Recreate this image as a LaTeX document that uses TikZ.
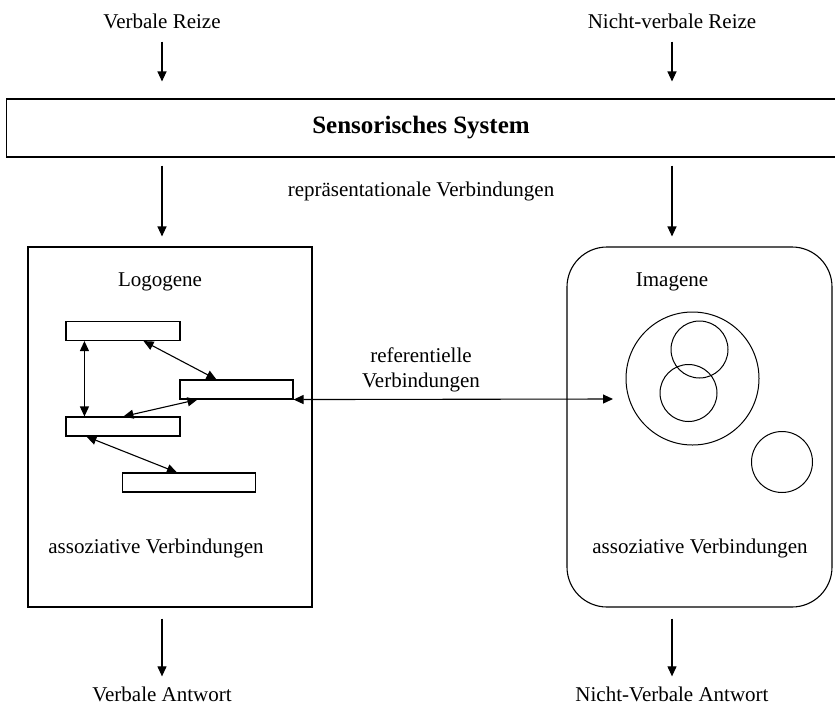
\documentclass[tikz,border=0pt]{standalone}
\usepackage{fontspec}
\setmainfont{Liberation Serif}
\usetikzlibrary{arrows.meta,positioning,calc}

\begin{document}
\begin{tikzpicture}[x=1pt, y=-1pt,
  txt/.style={font=\fontsize{21}{25}\selectfont, inner sep=2pt},
  box/.style={draw, line width=1.1pt, inner sep=0pt},
  bar/.style={draw, line width=1.1pt, minimum height=19pt, inner sep=0pt},
  ring/.style={draw, circle, line width=1pt, inner sep=0pt},
  arr/.style={-{Triangle[length=10pt,width=9pt]}, line width=1.1pt},
  darr/.style={{Triangle[length=10pt,width=9pt]}-{Triangle[length=10pt,width=9pt]}, line width=1.1pt},
]
\useasboundingbox (0,0) rectangle (835,707);

% --- Eingaben ---
\node[txt] (vreiz) at (162,21) {Verbale Reize};
\node[txt] (nvreiz) at (672,21) {Nicht-verbale Reize};

\node[box, minimum width=829pt, minimum height=58pt, font=\fontsize{25}{29}\selectfont\bfseries]
  (sens) at (421,128) {Sensorisches System};

\draw[arr, shorten <=11pt, shorten >=17pt] (vreiz.south) -- (vreiz |- sens.north);
\draw[arr, shorten <=11pt, shorten >=17pt] (nvreiz.south) -- (nvreiz |- sens.north);

\node[txt] (repr) at (421,191) {repräsentationale Verbindungen};

% --- Logogene ---
\node[box, minimum width=284pt, minimum height=360pt] (logo) at (170,427) {};
\node[txt] (logot) at (160,282) {Logogene};

\node[bar, minimum width=114pt] (lb1) at (123,331) {};
\node[bar, minimum width=113pt] (lb2) at (236.5,389.5) {};
\node[bar, minimum width=114pt] (lb3) at (123,426.5) {};
\node[bar, minimum width=133pt] (lb4) at (189,482.5) {};

\draw[darr] ([xshift=19pt]lb1.south west) -- ([xshift=19pt]lb3.north west);
\draw[darr] ([xshift=-37pt]lb1.south east) -- ([xshift=37pt]lb2.north west);
\draw[darr] ([xshift=18pt]lb2.south west) -- ([xshift=58pt]lb3.north west);
\draw[darr] ([xshift=21pt]lb3.south west) -- ([xshift=55pt]lb4.north west);

\node[txt] (logoa) at (156,548) {assoziative Verbindungen};

% --- Imagene ---
\node[box, rounded corners=40pt, minimum width=265pt, minimum height=360pt] (imag) at (699.5,427) {};
\node[txt] (imagt) at (672,282) {Imagene};

\node[ring, minimum size=133pt] (big) at (692.5,378.5) {};
\node[ring, minimum size=57pt] (c1) at (699.5,349.5) {};
\node[ring, minimum size=57pt] (c2) at (688.5,393) {};
\node[ring, minimum size=61pt] (c3) at (782,462) {};

\node[txt] (imaga) at (700,548) {assoziative Verbindungen};

% --- referentielle Verbindungen ---
\coordinate (refend) at (613,399);
\draw[darr] (lb2.south east) -- (refend);
\node[txt, align=center] (refv) at (421,370) {referentielle\\Verbindungen};

\draw[arr, shorten <=8pt, shorten >=10pt] (vreiz |- sens.south) -- (vreiz |- logo.north);
\draw[arr, shorten <=8pt, shorten >=10pt] (nvreiz |- sens.south) -- (nvreiz |- imag.north);

% --- Ausgaben ---
\node[txt] (vant) at (162,694) {Verbale Antwort};
\node[txt] (nvant) at (672,694) {Nicht-Verbale Antwort};

\draw[arr, shorten <=11pt, shorten >=8pt] (vant |- logo.south) -- (vant.north);
\draw[arr, shorten <=11pt, shorten >=8pt] (nvant |- imag.south) -- (nvant.north);

\end{tikzpicture}
\end{document}
